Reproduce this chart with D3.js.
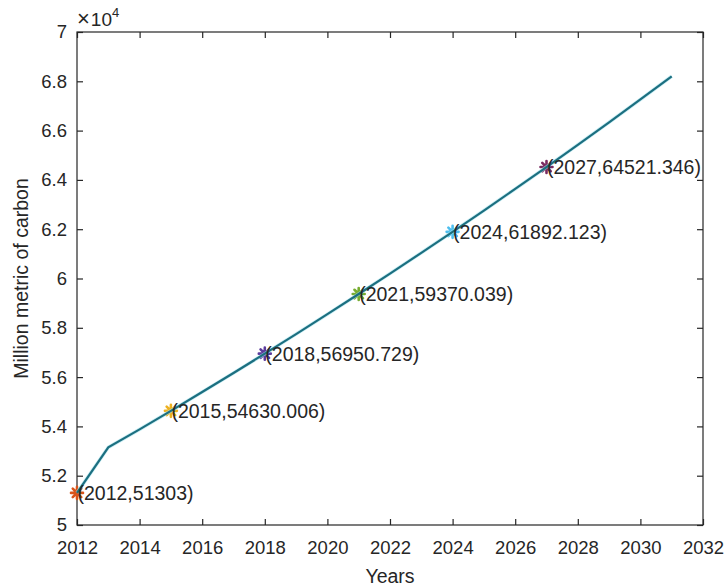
<!DOCTYPE html>
<html>
<head>
<meta charset="utf-8">
<script src="https://cdn.jsdelivr.net/npm/d3@7"></script>
<style>
  html, body { margin: 0; padding: 0; background: #ffffff; }
  svg { display: block; }
  text { font-family: "Liberation Sans", Arial, Helvetica, sans-serif; fill: #262626; }
</style>
</head>
<body>
<svg id="chart" width="725" height="587"></svg>
<script>
// Yearly carbon projection (million metric tons of carbon)
const years = [2012, 2013, 2014, 2015, 2016, 2017, 2018, 2019, 2020, 2021,
               2022, 2023, 2024, 2025, 2026, 2027, 2028, 2029, 2030, 2031];
const carbon = [51303, 53150, 53880, 54630.006, 55394, 56168, 56950.729, 57746, 58553, 59370.039,
                60200, 61041, 61892.123, 62757, 63634, 64521.346, 65423, 66337, 67264, 68204];

// Annotated points and their marker colours
const markYears = [2012, 2015, 2018, 2021, 2024, 2027];
const markValues = [51303, 54630.006, 56950.729, 59370.039, 61892.123, 64521.346];
const markLabels = ["(2012,51303)", "(2015,54630.006)", "(2018,56950.729)",
                    "(2021,59370.039)", "(2024,61892.123)", "(2027,64521.346)"];
const markColors = ["#d95319", "#edb120", "#5b3a9c", "#77ac30", "#4dbeee", "#7a2a60"];

// Axis ticks
const xTicks = [2012, 2014, 2016, 2018, 2020, 2022, 2024, 2026, 2028, 2030, 2032];
const yTicks = [5, 5.2, 5.4, 5.6, 5.8, 6, 6.2, 6.4, 6.6, 6.8, 7];
const yScaleFactor = 1e4;

const plotL = 77, plotR = 703, plotT = 32, plotB = 525;
const svg = d3.select("#chart");

const x = d3.scaleLinear().domain([2012, 2032]).range([plotL, plotR]);
const y = d3.scaleLinear().domain([5, 7]).range([plotB, plotT]);

const axisColor = "#262626";
const tickLen = 6;

// Box
svg.append("rect")
  .attr("x", plotL).attr("y", plotT)
  .attr("width", plotR - plotL).attr("height", plotB - plotT)
  .attr("fill", "none").attr("stroke", axisColor).attr("stroke-width", 1.2);

// Bottom axis (ticks pointing inward)
const xAxis = d3.axisBottom(x).tickValues(xTicks).tickFormat(d3.format("d"))
  .tickSizeInner(-tickLen).tickSizeOuter(0).tickPadding(16);
const gx = svg.append("g").attr("transform", `translate(0,${plotB})`).call(xAxis);
gx.select(".domain").remove();
gx.selectAll(".tick line").attr("stroke", axisColor).attr("stroke-width", 1.2);
gx.selectAll(".tick text").attr("font-size", 18.5).attr("fill", axisColor)
  .attr("font-family", "Liberation Sans, Arial, sans-serif");

// Top axis mirror ticks
const xTop = d3.axisTop(x).tickValues(xTicks).tickFormat("")
  .tickSizeInner(-tickLen).tickSizeOuter(0);
const gxt = svg.append("g").attr("transform", `translate(0,${plotT})`).call(xTop);
gxt.select(".domain").remove();
gxt.selectAll(".tick line").attr("stroke", axisColor).attr("stroke-width", 1.2);

// Left axis
const yAxis = d3.axisLeft(y).tickValues(yTicks).tickFormat(d => d3.format("~g")(d))
  .tickSizeInner(-tickLen).tickSizeOuter(0).tickPadding(10);
const gy = svg.append("g").attr("transform", `translate(${plotL},0)`).call(yAxis);
gy.select(".domain").remove();
gy.selectAll(".tick line").attr("stroke", axisColor).attr("stroke-width", 1.2);
gy.selectAll(".tick text").attr("font-size", 18.5).attr("fill", axisColor)
  .attr("font-family", "Liberation Sans, Arial, sans-serif");

// Right axis mirror ticks
const yRight = d3.axisRight(y).tickValues(yTicks).tickFormat("")
  .tickSizeInner(-tickLen).tickSizeOuter(0);
const gyr = svg.append("g").attr("transform", `translate(${plotR},0)`).call(yRight);
gyr.select(".domain").remove();
gyr.selectAll(".tick line").attr("stroke", axisColor).attr("stroke-width", 1.2);

// Exponent label
const expo = svg.append("text").attr("x", plotL).attr("y", 26).attr("font-size", 19);
expo.append("tspan").attr("font-size", 22).text("\u00d7");
expo.append("tspan").attr("dx", 1).text("10");
expo.append("tspan").attr("font-size", 13).attr("dy", -9).text("4");

// Axis titles
svg.append("text").attr("x", (plotL + plotR) / 2).attr("y", 583)
  .attr("text-anchor", "middle").attr("font-size", 19.5).text("Years");
svg.append("text")
  .attr("transform", `translate(28,${(plotT + plotB) / 2}) rotate(-90)`)
  .attr("text-anchor", "middle").attr("font-size", 19.5).text("Million metric of carbon");

// Asterisk markers
const star = (s) => {
  const r = s / 2, d = r * Math.SQRT1_2;
  return `M${-r},0L${r},0M0,${-r}L0,${r}M${-d},${-d}L${d},${d}M${-d},${d}L${d},${-d}`;
};
markYears.forEach((yr, i) => {
  svg.append("path")
    .attr("d", star(12))
    .attr("transform", `translate(${x(yr)},${y(markValues[i] / yScaleFactor)})`)
    .attr("fill", "none").attr("stroke", markColors[i]).attr("stroke-width", 2.6)
    .attr("stroke-linecap", "round");
});

// Projection line
const line = d3.line().x((d, i) => x(years[i])).y(d => y(d / yScaleFactor));
svg.append("path").datum(carbon)
  .attr("d", line).attr("fill", "none")
  .attr("stroke", "#a8e4ee").attr("stroke-width", 3.6).attr("opacity", 0.6);
svg.append("path").datum(carbon)
  .attr("d", line).attr("fill", "none")
  .attr("stroke", "#1c6f80").attr("stroke-width", 2.2);

// Data labels
markYears.forEach((yr, i) => {
  svg.append("text")
    .attr("x", x(yr) + 0.5)
    .attr("y", y(markValues[i] / yScaleFactor))
    .attr("dy", "0.36em")
    .attr("font-size", 19.5)
    .attr("fill", "#1a1a1a")
    .text(markLabels[i]);
});
</script>
</body>
</html>
